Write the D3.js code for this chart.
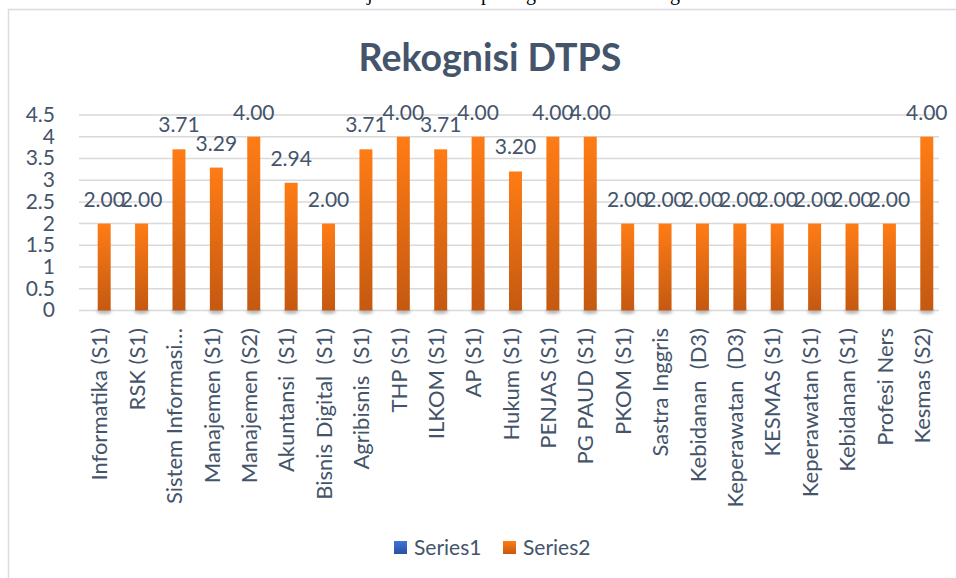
<!DOCTYPE html>
<html>
<head>
<meta charset="utf-8">
<script src="https://cdn.jsdelivr.net/npm/d3@7"></script>
<style>
  body { margin: 0; background: #fff; }
  text { font-family: Lato, "Open Sans", sans-serif; white-space: pre; }
</style>
</head>
<body>
<div id="chart"></div>
<script>
// data
var categories = ["Informatika (S1)", "RSK (S1)", "Sistem Informasi…", "Manajemen (S1)", "Manajemen (S2)",
  "Akuntansi  (S1)", "Bisnis Digital  (S1)", "Agribisnis  (S1)", "THP (S1)", "ILKOM (S1)", "AP (S1)",
  "Hukum (S1)", "PENJAS (S1)", "PG PAUD (S1)", "PKOM (S1)", "Sastra Inggris", "Kebidanan  (D3)",
  "Keperawatan  (D3)", "KESMAS (S1)", "Keperawatan (S1)", "Kebidanan (S1)", "Profesi Ners", "Kesmas (S2)"];
var seriesNames = ["Series1", "Series2"];
var series1 = [];   // no values shown for Series1
var series2 = [2.00, 2.00, 3.71, 3.29, 4.00, 2.94, 2.00, 3.71, 4.00, 3.71, 4.00, 3.20, 4.00, 4.00,
  2.00, 2.00, 2.00, 2.00, 2.00, 2.00, 2.00, 2.00, 4.00];
var yTicks = [0, 0.5, 1, 1.5, 2, 2.5, 3, 3.5, 4, 4.5];
var title = "Rekognisi DTPS";

var W = 956, H = 578;
var txt = "#44546A";

var svg = d3.select("#chart").append("svg")
  .attr("width", W).attr("height", H);

var defs = svg.append("defs");
function grad(id, top, bottom) {
  var g = defs.append("linearGradient").attr("id", id)
    .attr("x1", 0).attr("y1", 0).attr("x2", 0).attr("y2", 1);
  g.append("stop").attr("offset", "0%").attr("stop-color", top);
  g.append("stop").attr("offset", "100%").attr("stop-color", bottom);
}
grad("g-orange", "#FF7C15", "#C45911");
grad("g-blue", "#3F73D8", "#2A50A2");
defs.append("filter").attr("id", "blur").attr("x", "-50%").attr("y", "-100%")
  .attr("width", "200%").attr("height", "300%")
  .append("feGaussianBlur").attr("stdDeviation", 1.6);

// bits of the page text cut off above the chart
svg.append("text")
  .attr("y", 0)
  .style("font-family", "'Liberation Serif', serif")
  .style("font-size", "20px")
  .attr("fill", "#000")
  .selectAll("tspan")
  .data([["j", 367], ["p", 481], ["g", 526], ["g", 670]])
  .enter().append("tspan")
  .attr("x", function(d) { return d[1]; })
  .text(function(d) { return d[0]; });

// chart frame
svg.append("rect")
  .attr("x", 8.5).attr("y", 9.5)
  .attr("width", 1000).attr("height", 700)
  .attr("fill", "none")
  .attr("stroke", "#D9DCE3")
  .attr("stroke-width", 1.5);

svg.append("text")
  .attr("x", 490).attr("y", 71)
  .attr("text-anchor", "middle")
  .attr("fill", txt)
  .style("font-size", "37.5px")
  .style("font-weight", "bold")
  .text(title);

var x = d3.scaleBand().domain(categories).range([79, 939]);
var x1 = d3.scaleBand().domain(seriesNames).range([0, x.bandwidth()]).paddingOuter(0.44);
var y = d3.scaleLinear().domain([0, 4.5]).range([310.5, 115]);

// gridlines
svg.append("g").selectAll("line")
  .data(yTicks)
  .enter().append("line")
  .attr("x1", 79).attr("x2", 939)
  .attr("y1", function(d) { return y(d); })
  .attr("y2", function(d) { return y(d); })
  .attr("stroke", "#D9D9D9")
  .attr("stroke-width", 1.5);

// y tick labels
svg.append("g").selectAll("text")
  .data(yTicks)
  .enter().append("text")
  .attr("x", 55)
  .attr("y", function(d) { return y(d); })
  .attr("dy", "0.33em")
  .attr("text-anchor", "end")
  .attr("fill", txt)
  .style("font-size", "21px")
  .text(function(d) { return d; });

var data = categories.map(function(c, i) { return { name: c, v: series2[i] }; });

// soft shadow at the foot of each bar
svg.append("g").selectAll("ellipse")
  .data(data)
  .enter().append("ellipse")
  .attr("cx", function(d) { return x(d.name) + x1("Series2") + x1.bandwidth() / 2; })
  .attr("cy", y(0) + 1)
  .attr("rx", x1.bandwidth() / 2 + 1)
  .attr("ry", 2.5)
  .attr("fill", "#8a8a8a")
  .attr("opacity", 0.6)
  .attr("filter", "url(#blur)");

svg.append("g").selectAll(".bar")
  .data(data)
  .enter().append("rect")
  .classed("bar", true)
  .attr("x", function(d) { return x(d.name) + x1("Series2"); })
  .attr("y", function(d) { return y(d.v); })
  .attr("width", x1.bandwidth())
  .attr("height", function(d) { return y(0) - y(d.v); })
  .attr("fill", "url(#g-orange)");

// data labels
svg.append("g").selectAll("text")
  .data(data)
  .enter().append("text")
  .attr("x", function(d) { return x(d.name) + x1("Series2") + x1.bandwidth() / 2; })
  .attr("y", function(d) { return y(d.v) - 17; })
  .attr("text-anchor", "middle")
  .attr("fill", txt)
  .style("font-size", "21px")
  .text(function(d) { return d.v.toFixed(2); });

// category labels, rotated
svg.append("g").selectAll("text")
  .data(categories)
  .enter().append("text")
  .attr("transform", function(d) {
    return "translate(" + (x(d) + x.bandwidth() / 2 + 2) + ",328) rotate(-90)";
  })
  .attr("dy", "0.35em")
  .attr("text-anchor", "end")
  .attr("fill", txt)
  .style("font-size", "22px")
  .text(function(d) { return d; });

// legend
var leg = svg.append("g").selectAll("g")
  .data(seriesNames)
  .enter().append("g")
  .attr("transform", function(d, i) { return "translate(" + [394, 503][i] + ",541)"; });
leg.append("rect")
  .attr("width", 13).attr("height", 13)
  .attr("fill", function(d, i) { return i ? "url(#g-orange)" : "url(#g-blue)"; });
leg.append("text")
  .attr("x", 20).attr("y", 13.5)
  .attr("fill", txt)
  .style("font-size", "21px")
  .text(function(d) { return d; });
</script>
</body>
</html>
